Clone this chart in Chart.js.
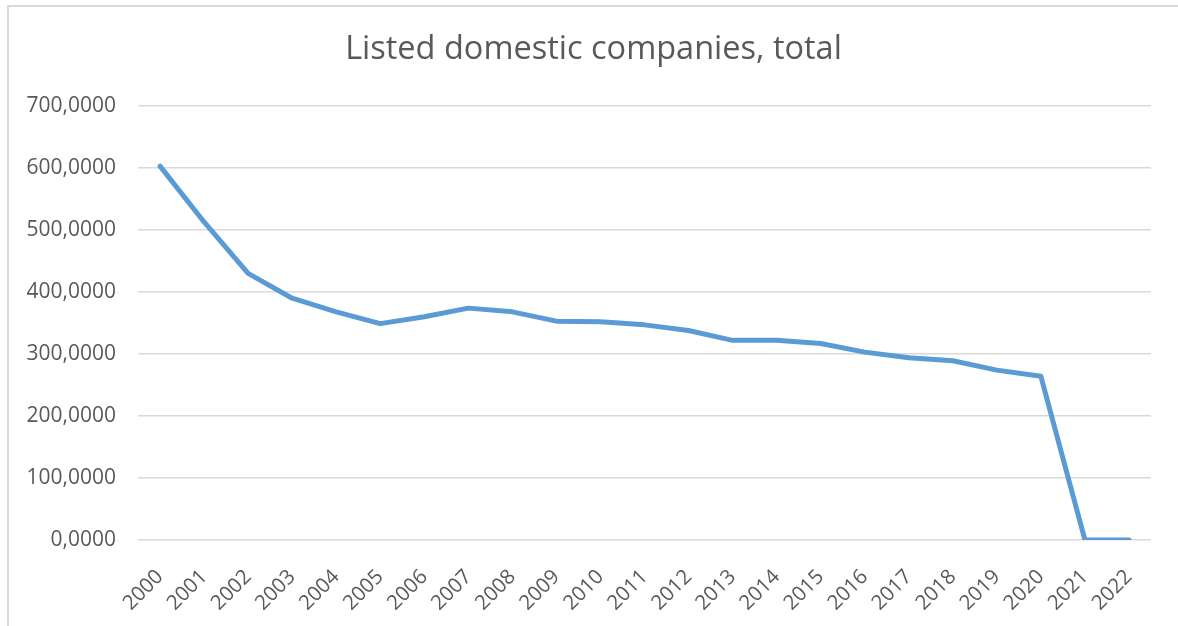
<!DOCTYPE html>
<html>
<head>
<meta charset="utf-8">
<script src="https://cdn.jsdelivr.net/npm/chart.js@4/dist/chart.umd.min.js"></script>
<style>
  html, body { margin: 0; padding: 0; background: #fff; }
  #wrap { position: relative; width: 1178px; height: 626px; overflow: hidden; }
  #frame { position: absolute; left: 7px; top: 5px; width: 1200px; height: 700px;
           border-left: 2px solid #d9d9d9; border-top: 2px solid #d9d9d9; box-sizing: border-box; }
  canvas { position: absolute; left: 0; top: 0; }
</style>
</head>
<body>
<div id="wrap">
  <div id="frame"></div>
  <canvas id="c" width="1178" height="626"></canvas>
</div>
<script>
const chartTitle = "Listed domestic companies, total";
const years = ["2000","2001","2002","2003","2004","2005","2006","2007","2008","2009","2010",
               "2011","2012","2013","2014","2015","2016","2017","2018","2019","2020","2021","2022"];
const companies = [603, 513, 430, 390, 368, 349, 360, 374, 368, 353, 352,
                   347, 338, 322, 322, 317, 303, 294, 289, 274, 264, 0, 0];
const yMin = 0, yMax = 700, yStep = 100;

const textColor = "#595959";
const fontFamily = "'Open Sans', 'DejaVu Sans', sans-serif";

// Title drawn centred over the chart frame (the frame is offset from the canvas centre)
const frameTitle = {
  id: "frameTitle",
  afterDraw(chart) {
    const ctx = chart.ctx;
    ctx.save();
    ctx.fillStyle = textColor;
    ctx.font = "32.5px " + fontFamily;
    ctx.textAlign = "center";
    ctx.textBaseline = "middle";
    ctx.fillText(chartTitle, 593.5, 50);
    ctx.restore();
  }
};

new Chart(document.getElementById("c"), {
  type: "line",
  data: {
    labels: years,
    datasets: [{
      data: companies,
      borderColor: "#5B9BD5",
      backgroundColor: "#5B9BD5",
      borderWidth: 5,
      pointRadius: 0,
      tension: 0,
      borderCapStyle: "round",
      borderJoinStyle: "round",
      fill: false
    }]
  },
  plugins: [frameTitle],
  options: {
    responsive: false,
    animation: false,
    devicePixelRatio: 1,
    layout: { padding: { left: 0, right: 27, top: 106, bottom: 0 } },
    plugins: {
      legend: { display: false },
      tooltip: { enabled: false },
      title: { display: false }
    },
    scales: {
      x: {
        offset: true,
        grid: { display: false, drawTicks: false },
        border: { display: false },
        ticks: {
          color: textColor,
          font: { family: fontFamily, size: 20.5 },
          minRotation: 45,
          maxRotation: 45,
          autoSkip: false,
          padding: 25
        },
        afterFit: (s) => { s.height = 86; }
      },
      y: {
        min: yMin,
        max: yMax,
        grid: { color: "#d9d9d9", lineWidth: 1.5, drawTicks: false },
        border: { display: false },
        ticks: {
          stepSize: yStep,
          color: textColor,
          font: { family: fontFamily, size: 21 },
          padding: 22,
          callback: (v) => v.toFixed(4).replace(".", ",")
        },
        afterFit: (s) => { s.width = 138; }
      }
    }
  }
});
</script>
</body>
</html>
